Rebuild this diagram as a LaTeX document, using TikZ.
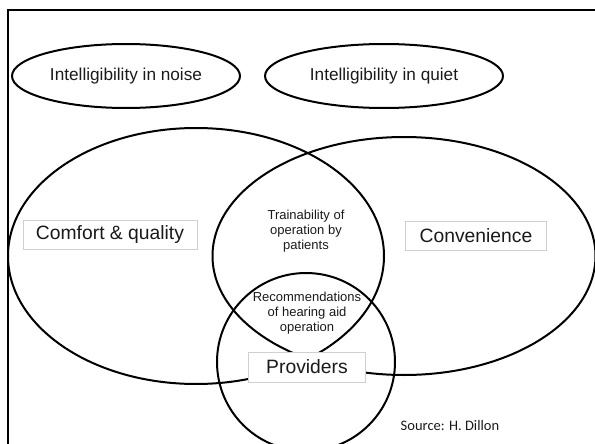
\documentclass[tikz,border=0pt]{standalone}
\usepackage{fontspec}
\setmainfont{Liberation Sans}
\newfontfamily\notefont{Carlito}
\usepackage{xcolor}
\usetikzlibrary{shapes.geometric, positioning}
\definecolor{VennLine}{HTML}{000000}
\definecolor{VennText}{HTML}{1A1A1A}
\definecolor{LabelFrame}{HTML}{D0D0D0}
\tikzset{
  goalnode/.style={draw=VennLine, line width=2pt, ellipse, inner sep=0pt,
                   font=\fontsize{17.2}{20}\selectfont, text=VennText},
  areanode/.style={draw=VennLine, line width=2pt, ellipse, inner sep=0pt},
  circlenode/.style={draw=VennLine, line width=2pt, circle, inner sep=0pt},
  labelbox/.style={draw=LabelFrame, fill=white, rectangle, inner sep=0pt,
                   font=\fontsize{19.3}{22}\selectfont, text=VennText},
  smalltext/.style={font=\fontsize{13}{15.2}\selectfont, align=center,
                    text=VennText, inner sep=0pt}
}
\begin{document}
\begin{tikzpicture}[x=1pt, y=-1pt]
  \useasboundingbox (0,0) rectangle (595,444);
  \draw[line width=2pt] (8,450) |- (600,10);

  \node[goalnode, minimum width=228pt, minimum height=64pt] (noise) at (126,76) {Intelligibility in noise};
  \node[goalnode, minimum width=238pt, minimum height=64pt] (quiet) at (384,76) {Intelligibility in quiet};

  \node[areanode, minimum width=376pt, minimum height=256pt] (comfortarea) at (196,256) {};
  \node[areanode, minimum width=383pt, minimum height=238pt] (convarea)    at (404,256) {};
  \node[circlenode, minimum size=178pt]                      (providerarea) at (306,362) {};

  \node[labelbox, minimum width=174pt, minimum height=29pt] (comfort)   at (110,235) {Comfort \& quality};
  \node[labelbox, minimum width=141pt, minimum height=29pt] (conv)      at (476,236) {Convenience};
  \node[labelbox, minimum width=117pt, minimum height=30pt] (providers) at (307,367) {Providers};

  \node[smalltext] (training) at (306,231) {Trainability of\\operation by\\patients};
  \node[smalltext] (recommend) at (307,313) {Recommendations\\of hearing aid\\operation};

  \node[font=\notefont\fontsize{14.5}{17}\selectfont, text=VennText, inner sep=0pt] (source) at (450,426) {Source: H. Dillon};
\end{tikzpicture}
\end{document}
